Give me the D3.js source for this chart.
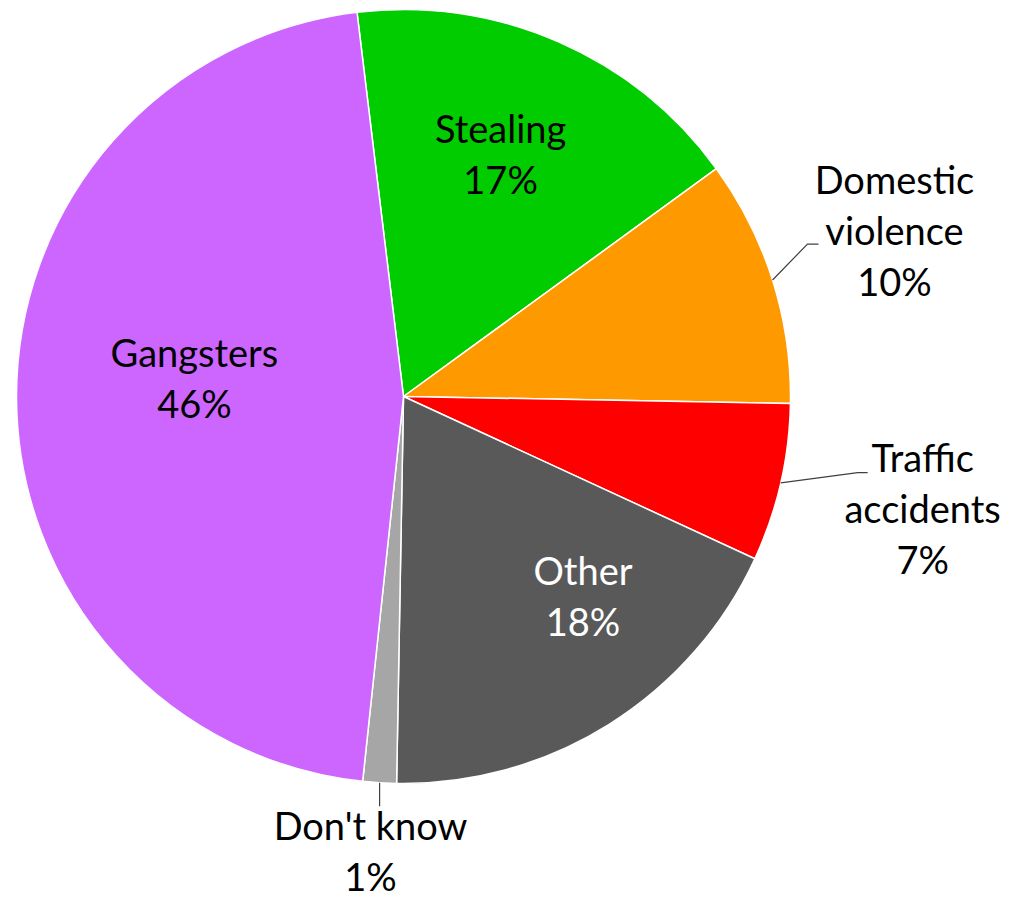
<!DOCTYPE html>
<html>
<head>
<meta charset="utf-8">
<script src="https://cdn.jsdelivr.net/npm/d3@7"></script>
<style>
  html, body { margin: 0; padding: 0; background: #ffffff; }
  svg { display: block; }
</style>
</head>
<body>
<div id="chart"></div>
<script>
// ---- Data ----
const categories = ["Stealing", "Domestic violence", "Traffic accidents", "Other", "Don't know", "Gangsters"];
const values = [16.9, 10.3, 6.6, 18.4, 1.4, 46.4];
const percentLabels = ["17%", "10%", "7%", "18%", "1%", "46%"];
const nameLines = [["Stealing"], ["Domestic", "violence"], ["Traffic", "accidents"], ["Other"], ["Don't know"], ["Gangsters"]];
const colors = ["#00CC00", "#FF9900", "#FF0000", "#595959", "#A6A6A6", "#CC66FF"];
const textColors = ["#000000", "#000000", "#000000", "#FFFFFF", "#000000", "#000000"];

// ---- Layout ----
const width = 1011, height = 901;
const cx = 403.5, cy = 396.5, R = 387;
const startDeg = -6.9;
const fontSize = 38, lineH = 51, capHalf = 13;

// label placement: angle offset (deg) from slice middle, radius as fraction of R, outside flag
const placement = [
  { da: -1.6, rf: 0.672, outside: false },
  { da: -1.0, rf: 1.338, outside: true, elbow: [-87, 12], end: [-76, 12] },
  { da: -0.6, rf: 1.373, outside: true, elbow: [-65, -37], end: [-55, -37] },
  { da: -9.7, rf: 0.696, outside: false },
  { da: 0.6, rf: 1.181, outside: true, vertical: true, endDy: -46 },
  { da: 5.0, rf: 0.542, outside: false }
];

const rad = d => d * Math.PI / 180;
const polar = (ang, r) => [cx + r * Math.sin(ang), cy - r * Math.cos(ang)];

const svg = d3.select("#chart").append("svg")
  .attr("width", width).attr("height", height);

const pie = d3.pie().sort(null).value(d => d)
  .startAngle(rad(startDeg)).endAngle(rad(startDeg) + 2 * Math.PI);
const arcs = pie(values);
const arc = d3.arc().innerRadius(0).outerRadius(R);

const g = svg.append("g").attr("transform", `translate(${cx},${cy})`);
g.selectAll("path.slice").data(arcs).enter().append("path")
  .attr("class", "slice")
  .attr("d", arc)
  .attr("fill", (d, i) => colors[i])
  .attr("stroke", "#ffffff")
  .attr("stroke-width", 1.5)
  .attr("stroke-linejoin", "round");

// labels
arcs.forEach((a, i) => {
  const p = placement[i];
  const mid = (a.startAngle + a.endAngle) / 2;
  const [lx, ly] = polar(mid + rad(p.da), p.rf * R);
  const lines = nameLines[i].concat([percentLabels[i]]);
  const n = lines.length;

  if (p.outside) {
    const start = polar(mid, R);
    let pts;
    if (p.vertical) {
      pts = [start, [start[0], ly + p.endDy]];
    } else {
      pts = [start, [lx + p.elbow[0], ly + p.elbow[1]], [lx + p.end[0], ly + p.end[1]]];
    }
    svg.append("path")
      .attr("d", d3.line()(pts))
      .attr("fill", "none")
      .attr("stroke", "#404040")
      .attr("stroke-width", 1.2);
  }

  const t = svg.append("text")
    .attr("text-anchor", "middle")
    .attr("font-family", "Lato, 'Open Sans', sans-serif")
    .attr("font-size", fontSize)
    .attr("fill", textColors[i]);
  lines.forEach((s, k) => {
    t.append("tspan")
      .attr("x", lx)
      .attr("y", ly + (k - (n - 1) / 2) * lineH + capHalf)
      .text(s);
  });
});
</script>
</body>
</html>
